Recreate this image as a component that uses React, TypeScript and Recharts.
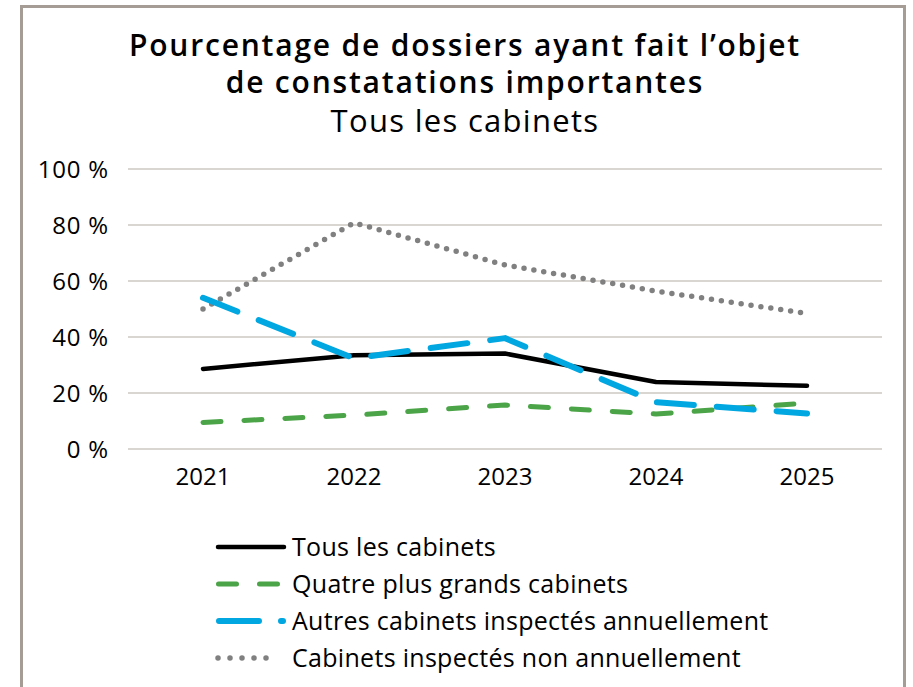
import React from 'react';
import { LineChart, Line, XAxis, YAxis, CartesianGrid, Legend } from 'recharts';

const years = ['2021', '2022', '2023', '2024', '2025'];
const tousLesCabinets = [28.6, 33.5, 34.1, 23.9, 22.6];
const quatrePlusGrands = [9.5, 12.1, 15.7, 12.5, 16.4];
const autresAnnuels = [54.0, 32.4, 39.6, 16.7, 12.7];
const nonAnnuels = [50.0, 80.8, 65.7, 56.4, 48.4];
const yTicks = [0, 20, 40, 60, 80, 100];

const seriesNames = {
  tous: 'Tous les cabinets',
  quatre: 'Quatre plus grands cabinets',
  autres: 'Autres cabinets inspectés annuellement',
  non: 'Cabinets inspectés non annuellement',
};
const legendOrder = ['tous', 'quatre', 'autres', 'non'];

const data = years.map((y, i) => ({
  year: y,
  tous: tousLesCabinets[i],
  quatre: quatrePlusGrands[i],
  autres: autresAnnuels[i],
  non: nonAnnuels[i],
}));

const FONT = '"Open Sans", "Noto Sans", sans-serif';

const styles: Record<string, { color: string; width: number; dash?: string; legendDash?: string; x1: number; x2: number }> = {
  tous: { color: '#000000', width: 4.5, x1: 8, x2: 74 },
  quatre: { color: '#4ba447', width: 5, dash: '18 23', legendDash: '18 23', x1: 8.5, x2: 67.5 },
  autres: { color: '#00a7e1', width: 6, dash: '37 23', legendDash: '40 22', x1: 9, x2: 73 },
  non: { color: '#808080', width: 5.5, dash: '0 10', legendDash: '0 12', x1: 8, x2: 68 },
};

const LegendContent = (props: any) => {
  const payload: any[] = props.payload || [];
  const byKey: Record<string, any> = {};
  payload.forEach((p) => (byKey[p.dataKey] = p));
  return (
    <div style={{ fontFamily: FONT }}>
      {legendOrder
        .filter((k) => byKey[k])
        .map((k) => {
          const s = styles[k];
          return (
            <div key={k} style={{ display: 'flex', alignItems: 'center', height: 37 }}>
              <svg width={82} height={20} style={{ display: 'block' }}>
                <line
                  x1={s.x1}
                  x2={s.x2}
                  y1={10}
                  y2={10}
                  stroke={s.color}
                  strokeWidth={s.width}
                  strokeLinecap="round"
                  strokeDasharray={s.legendDash}
                />
              </svg>
              <span
                style={{
                  fontSize: 25,
                  color: '#000',
                  whiteSpace: 'nowrap',
                  lineHeight: '37px',
                  letterSpacing: 0.3,
                }}
              >
                {byKey[k].value}
              </span>
            </div>
          );
        })}
    </div>
  );
};

export default function App() {
  return (
    <div
      style={{
        position: 'absolute',
        left: 0,
        top: 0,
        width: 913,
        height: 687,
        overflow: 'hidden',
        background: '#fff',
        fontFamily: FONT,
      }}
    >
      <div
        style={{
          position: 'absolute',
          left: 20,
          top: 5,
          width: 886,
          height: 720,
          border: '3px solid #a59d95',
          boxSizing: 'border-box',
        }}
      />
      <div
        style={{
          position: 'absolute',
          left: 20,
          width: 890,
          top: 26,
          textAlign: 'center',
          fontSize: 30,
          fontWeight: 600,
          letterSpacing: 1.8,
          lineHeight: '37px',
          color: '#000',
        }}
      >
        <div>Pourcentage de dossiers ayant fait l’objet</div>
        <div>de constatations importantes</div>
      </div>
      <div
        style={{
          position: 'absolute',
          left: 20,
          width: 890,
          top: 102,
          textAlign: 'center',
          fontSize: 31,
          fontWeight: 400,
          letterSpacing: 1.3,
          lineHeight: '37px',
          color: '#000',
        }}
      >
        Tous les cabinets
      </div>
      <div style={{ position: 'absolute', left: 0, top: 0 }}>
        <LineChart width={913} height={687} data={data} margin={{ top: 169, right: 31, bottom: 198, left: 0 }}>
          <CartesianGrid vertical={false} stroke="#d9d5d0" strokeWidth={2} />
          <XAxis
            dataKey="year"
            axisLine={false}
            tickLine={false}
            height={40}
            tickMargin={13}
            padding={{ left: 75, right: 75 }}
            tick={{ fill: '#000', fontSize: 24, fontFamily: FONT }}
            interval={0}
          />
          <YAxis
            domain={[0, 100]}
            ticks={yTicks}
            axisLine={false}
            tickLine={false}
            width={128}
            tickMargin={13}
            tickFormatter={(v: number) => `${v}\u00a0%`}
            tick={{ fill: '#000', fontSize: 24, fontFamily: FONT, letterSpacing: 0.8 }}
            interval={0}
          />
          <Legend
            layout="vertical"
            align="center"
            verticalAlign="middle"
            content={<LegendContent />}
            wrapperStyle={{ left: 210, top: 528, width: 620 }}
          />
          {['non', 'quatre', 'tous', 'autres'].map((k) => (
            <Line
              key={k}
              dataKey={k}
              name={(seriesNames as any)[k]}
              type="linear"
              stroke={styles[k].color}
              strokeWidth={styles[k].width}
              strokeDasharray={styles[k].dash}
              strokeLinecap="round"
              strokeLinejoin="round"
              dot={false}
              activeDot={false}
              isAnimationActive={false}
            />
          ))}
        </LineChart>
      </div>
    </div>
  );
}
